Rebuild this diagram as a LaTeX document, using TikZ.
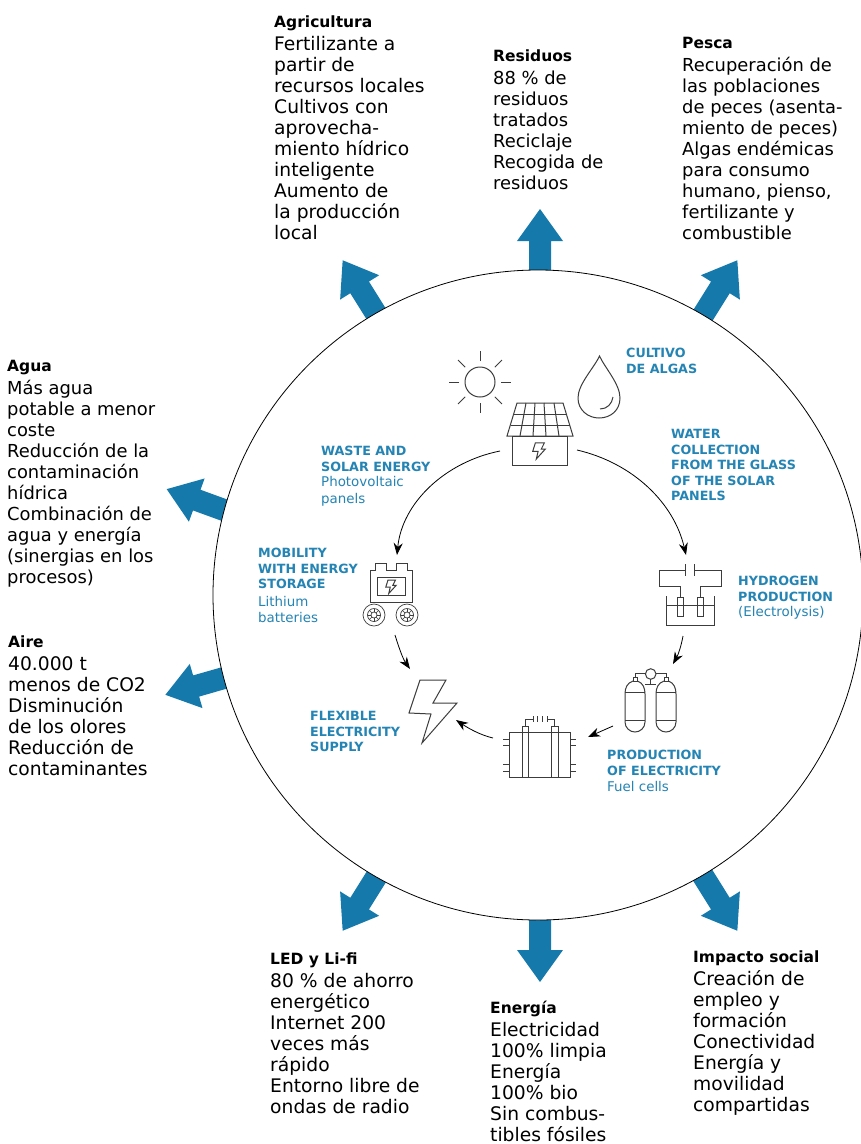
\documentclass[tikz,border=0pt]{standalone}
\usepackage{fontspec}
\setmainfont{DejaVu Sans}
\usetikzlibrary{arrows.meta}
\definecolor{flowblue}{HTML}{1679AB}
\definecolor{labelblue}{HTML}{2484B4}
\definecolor{iconline}{HTML}{3C3C3C}
\newcommand{\hd}[1]{{\fontsize{15.5}{21}\selectfont\bfseries #1}\\[2pt]}
\newcommand{\lb}[1]{{\fontsize{12.7}{15.6}\selectfont\bfseries #1}}
\newcommand{\blockarrow}[3]{\fill[flowblue,shift={(#1,#2)},rotate=#3] (-10,-11)--(29,-11)--(29,-23)--(61,0)--(29,23)--(29,11)--(-10,11)--cycle;}
\newcommand{\zap}[3]{\draw[icon,shift={(#1,#2)},scale=#3] (-4,-8)--(6,-8)--(2.5,-1)--(7,-1)--(-3,10)--(-1,1.5)--(-7,1.5)--cycle;}
\tikzset{
 body/.style={anchor=north west,inner sep=0pt,align=left,text=black,font=\fontsize{18.7}{21}\selectfont},
 bodytight/.style={body,font=\fontsize{17.9}{21}\selectfont},
 small/.style={anchor=north west,inner sep=0pt,align=left,text=labelblue,font=\fontsize{13.4}{15.6}\selectfont},
 icon/.style={draw=iconline,line width=1pt,line join=miter},
 flow/.style={draw=black,line width=0.8pt,-{Stealth[length=12pt,width=9pt]}},
 ring/.style={draw=black,line width=0.8pt,fill=white}
}
\begin{document}
\begin{tikzpicture}[x=1pt,y=-1pt]
\useasboundingbox (0,0) rectangle (861,1144);
% block arrows
\blockarrow{540}{270}{90}
\blockarrow{375}{312}{122}
\blockarrow{705}{312}{58}
\blockarrow{224}{510}{160}
\blockarrow{224}{678}{196}
\blockarrow{375}{879}{238}
\blockarrow{540}{921}{270}
\blockarrow{705}{879}{302}
\node[ring,circle,minimum size=650pt,inner sep=0pt] (ring) at (538,595) {};

% outer text
\node[body] (agri) at (274,16) {\hd{Agricultura}Fertilizante a\\partir de\\recursos locales\\Cultivos con\\aprovecha-\\miento hídrico\\inteligente\\Aumento de\\la producción\\local};
\node[bodytight] (resi) at (493,50) {\hd{Residuos}88 \% de\\residuos\\tratados\\Reciclaje\\Recogida de\\residuos};
\node[bodytight] (pesca) at (682,37) {\hd{Pesca}Recuperación de\\las poblaciones\\de peces (asenta-\\miento de peces)\\Algas endémicas\\para consumo\\humano, pienso,\\fertilizante y\\combustible};
\node[bodytight] (agua) at (7,360) {\hd{Agua}Más agua\\potable a menor\\coste\\Reducción de la\\contaminación\\hídrica\\Combinación de\\agua y energía\\(sinergias en los\\procesos)};
\node[body] (aire) at (8,636) {\hd{Aire}40.000 t\\menos de CO2\\Disminución\\de los olores\\Reducción de\\contaminantes};
\node[body] (led) at (270,953) {\hd{LED y Li-fi}80 \% de ahorro\\energético\\Internet 200\\veces más\\rápido\\Entorno libre de\\ondas de radio};
\node[body] (ener) at (490,1001) {\hd{Energía}Electricidad\\100\% limpia\\Energía\\100\% bio\\Sin combus-\\tibles fósiles};
\node[body] (impacto) at (693,951) {\hd{Impacto social}Creación de\\empleo y\\formación\\Conectividad\\Energía y\\movilidad\\compartidas};

% inner labels
\node[small] (l1) at (626,348) {\lb{CULTIVO}\\\lb{DE ALGAS}};
\node[small] (l2) at (321,446) {\lb{WASTE AND}\\\lb{SOLAR ENERGY}\\Photovoltaic\\[1pt]panels};
\node[small] (l3) at (671,429) {\lb{WATER}\\\lb{COLLECTION}\\\lb{FROM THE GLASS}\\\lb{OF THE SOLAR}\\\lb{PANELS}};
\node[small] (l4) at (258,548) {\lb{MOBILITY}\\\lb{WITH ENERGY}\\\lb{STORAGE}\\[2pt]Lithium\\batteries};
\node[small] (l5) at (738,576) {\lb{HYDROGEN}\\\lb{PRODUCTION}\\(Electrolysis)};
\node[small] (l6) at (310,711) {\lb{FLEXIBLE}\\\lb{ELECTRICITY}\\\lb{SUPPLY}};
\node[small] (l7) at (607,750) {\lb{PRODUCTION}\\\lb{OF ELECTRICITY}\\[1pt]Fuel cells};

% sun
\draw[icon] (480,382) circle (15);
\foreach \a in {0,45,...,315}{\draw[icon] (480,382)++(\a:21)--++(\a:10);}
% drop
\draw[icon] (599.5,356) .. controls (594,368) and (578,384) .. (578,398) .. controls (578,410) and (588,418) .. (599,418) .. controls (611,418) and (620,410) .. (620,398) .. controls (620,384) and (605,368) .. (599.5,356) -- cycle;
\draw[icon] (613,397) .. controls (612,404) and (607,409) .. (600,409);
% house
\draw[icon] (517,403)--(563,403)--(573,436)--(507,436)--cycle;
\draw[icon] (512,436) rectangle (567,465);
\foreach \t/\b in {526/520,535/533,544/546,554/559}{\draw[icon] (\t,403)--(\b,436);}
\draw[icon] (513.5,414)--(566.5,414) (510.5,425)--(570,425);
\zap{539}{450}{0.9}
% battery
\draw[icon] (370,602)--(370,570)--(375,570)--(375,563)--(386,563)--(386,570)--(396,570)--(396,563)--(407,563)--(407,570)--(412,570)--(412,602)--cycle;
\draw[icon] (377,577) rectangle (405,595);
\zap{391}{586}{0.75}
\foreach \c in {374,407}{
 \draw[icon,line width=0.7pt] (\c,615) circle (11) (\c,615) circle (6.5) (\c,615) circle (3);
 \foreach \a in {0,45,...,315}{\draw[icon,line width=0.5pt] (\c,615)++(\a:3)--++(\a:3.5);}
}
% flash
\draw[icon] (420,680)--(446,680)--(433,703)--(457,703)--(422,743)--(431,714)--(409,713)--cycle;
% electrolysis
\draw[icon] (685.7,564)--(685.7,576) (694.3,564)--(694.3,576);
\draw[icon] (685.7,570)--(659.3,570)--(659.3,586)--(680,586)--(680,597);
\draw[icon] (694.3,570)--(721,570)--(721,586)--(700,586)--(700,597);
\draw[icon] (677.3,597) rectangle (683.3,616) (697.3,597) rectangle (703.3,616);
\draw[icon] (666,596)--(666,625.7)--(714.7,625.7)--(714.7,596) (666,605)--(714.7,605);
% tanks
\draw[icon] (650.7,674) circle (5.3);
\draw[icon] (645.4,673)--(635.7,673)--(635.7,677) (656,673)--(666,673)--(666,677);
\draw[icon] (650.7,679.3)--(650.7,684) (645,684)--(656,684);
\foreach \x in {625,656}{
 \draw[icon] (\x+8,681) rectangle (\x+12.5,677);
 \draw[icon] (\x+8,681) .. controls (\x+2,683) and (\x,688) .. (\x,694) -- (\x,722) .. controls (\x,728) and (\x+5,732) .. (\x+10,732) .. controls (\x+15,732) and (\x+20,728) .. (\x+20,722) -- (\x+20,694) .. controls (\x+20,688) and (\x+18,683) .. (\x+12.5,681);
 \draw[icon] (\x,692)--(\x+20,692) (\x,720)--(\x+20,720);
}
% fuel cell
\draw[icon] (509,732) rectangle (570,777);
\draw[icon] (522,726) rectangle (528,777) (551,726) rectangle (558,777) (522,732)--(528,732) (551,732)--(558,732);
\draw[icon] (525,726)--(525,719)--(533,719) (547,719)--(554.5,719)--(554.5,726);
\draw[icon] (533,716)--(533,722) (537.5,716)--(537.5,722) (542.5,716)--(542.5,722) (547,716)--(547,722);
\foreach \y in {739,745,764,771}{\draw[icon] (503,\y)--(509,\y) (570,\y)--(576,\y);}

% connector ends
\coordinate (house-l) at (500,451);
\coordinate (house-r) at (577,450);
\coordinate (batt-t) at (397,555);
\coordinate (batt-b) at (395,635);
\coordinate (flash-t) at (410,669);
\coordinate (flash-r) at (456,720);
\coordinate (cell-l) at (493,738);
\coordinate (cell-r) at (588,737);
\coordinate (tank-l) at (613,726);
\coordinate (tank-t) at (673,664);
\coordinate (elec-t) at (686,555);
\coordinate (elec-b) at (683,636);
\draw[flow] (house-l) .. controls (445,462) and (402,503) .. (batt-t);
\draw[flow] (house-r) .. controls (633,463) and (674,503) .. (elec-t);
\draw[flow] (batt-b) .. controls (399,648) and (403,659) .. (flash-t);
\draw[flow] (elec-b) .. controls (681,647) and (678,655) .. (tank-t);
\draw[flow] (tank-l) -- (cell-r);
\draw[flow] (cell-l) .. controls (480,735) and (468,728) .. (flash-r);
\end{tikzpicture}
\end{document}
